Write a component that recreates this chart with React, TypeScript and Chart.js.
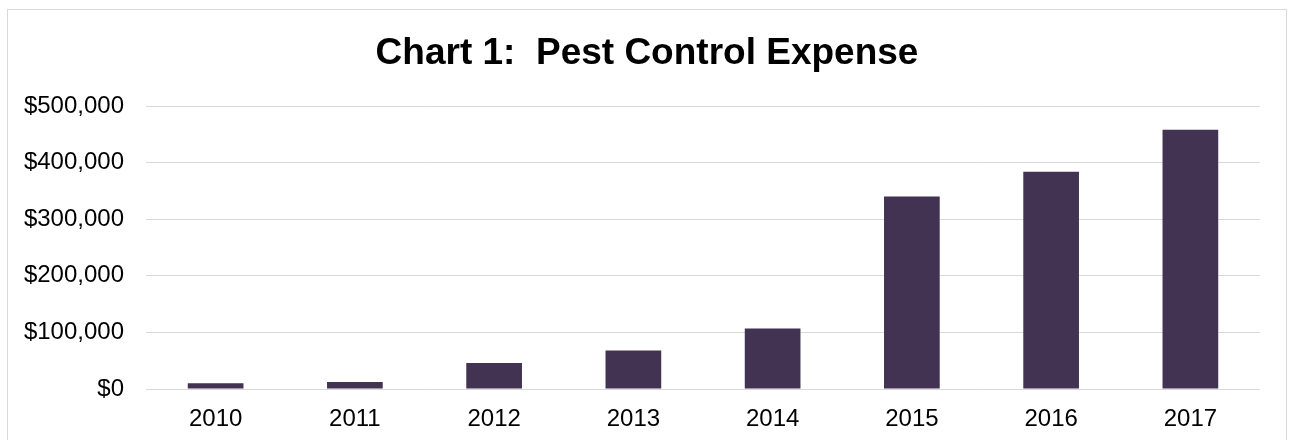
import React, { useEffect, useRef } from "react";
import { Chart, registerables } from "chart.js";

Chart.register(...registerables);

const years = ["2010", "2011", "2012", "2013", "2014", "2015", "2016", "2017"];
const expense = [10000, 12500, 46000, 68000, 107000, 340000, 384000, 458000];
const yMin = 0;
const yMax = 500000;
const yStep = 100000;

const FONT = "'Liberation Sans', Arial, sans-serif";

export default function App() {
  const ref = useRef<HTMLCanvasElement | null>(null);

  useEffect(() => {
    if (!ref.current) return;
    const chart = new Chart(ref.current, {
      type: "bar",
      data: {
        labels: years,
        datasets: [
          {
            label: "Pest Control Expense",
            data: expense,
            backgroundColor: "#433352",
            borderWidth: 0,
            categoryPercentage: 1,
            barPercentage: 0.4,
            yAxisID: "y",
          },
        ],
      },
      options: {
        animation: false,
        responsive: true,
        maintainAspectRatio: false,
        layout: { padding: { left: 0, right: 0, top: 0, bottom: 7.6 } },
        plugins: {
          legend: { display: false },
          tooltip: { enabled: false },
          title: {
            display: true,
            text: "Chart 1:  Pest Control Expense",
            color: "#000",
            font: { family: FONT, size: 37, weight: "bold", lineHeight: 1.2 },
            padding: { top: 22, bottom: 29.6 },
          },
        },
        scales: {
          x: {
            grid: { display: false, drawTicks: false },
            border: { display: false },
            afterFit: (s: any) => {
              s.height = 44.4;
            },
            ticks: {
              color: "#000",
              font: { family: FONT, size: 24, lineHeight: 1.2 },
              padding: 15.6,
              maxRotation: 0,
            },
          },
          y: {
            position: "left",
            min: yMin,
            max: yMax,
            grid: { color: "#d9d9d9", lineWidth: 1, drawTicks: false },
            border: { display: false },
            afterFit: (s: any) => {
              s.width = 138;
            },
            ticks: {
              stepSize: yStep,
              color: "#000",
              font: { family: FONT, size: 24, lineHeight: 1.2 },
              padding: 22,
              callback: (v: any) => "$" + Number(v).toLocaleString("en-US"),
            },
          },
          yRight: {
            position: "right",
            display: true,
            min: yMin,
            max: yMax,
            grid: { display: false, drawTicks: false },
            border: { display: false },
            ticks: { display: false },
            afterFit: (s: any) => {
              s.width = 26;
            },
          },
        },
      },
    });
    return () => chart.destroy();
  }, []);

  return (
    <div
      style={{
        position: "fixed",
        left: 7,
        top: 9,
        width: 1278,
        height: 431,
        borderTop: "1px solid #d9d9d9",
        borderLeft: "1px solid #d9d9d9",
        borderRight: "1px solid #d9d9d9",
        background: "#fff",
      }}
    >
      <canvas ref={ref} style={{ width: "100%", height: "100%" }} />
    </div>
  );
}
